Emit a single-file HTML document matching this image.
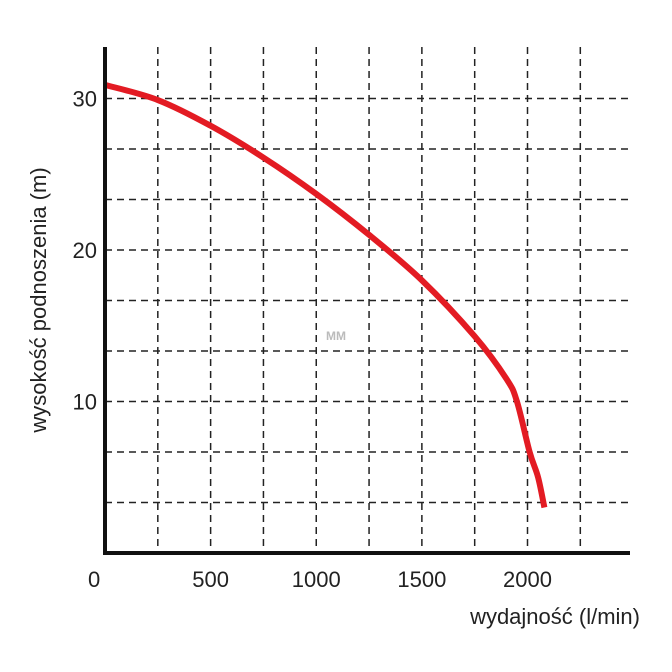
<!DOCTYPE html>
<html><head><meta charset="utf-8"><style>body{margin:0;background:#fff}svg{display:block}text{font-family:"Liberation Sans",sans-serif;fill:#222}</style></head>
<body>
<svg width="672" height="672">
<g id="grid"></g>
<text x="336" y="340" font-size="12" font-weight="bold" style="fill:#bbb" text-anchor="middle">MM</text>
<path id="curve" fill="none" stroke="#e31b23" stroke-width="6" stroke-linecap="butt"/>
<line x1="105" y1="47" x2="105" y2="555" stroke="#111" stroke-width="4"/>
<line x1="103" y1="553" x2="630" y2="553" stroke="#111" stroke-width="4"/>
<g id="ticks"></g>
<text x="88" y="587" font-size="22">0</text>
<text x="640" y="624" font-size="22" text-anchor="end">wydajność (l/min)</text>
<text transform="translate(46,300) rotate(-90)" font-size="22" text-anchor="middle">wysokość podnoszenia (m)</text>
</svg>
<script>
const flowValues=[0,250,500,750,1000,1250,1500,1750,1900,1950,2010,2050,2080];
const headValues=[30.9,29.9,28.2,26.1,23.7,21,18,14.3,11.5,10,6.67,5,3];
const xTickLabels=[500,1000,1500,2000];
const yTickLabels=[10,20,30];
const xs=v=>105+v*(422.5/2000);
const ys=v=>553-v*15.15;
const ns="http://www.w3.org/2000/svg";
const g=document.getElementById('grid');
for(let i=1;i<=9;i++){const l=document.createElementNS(ns,'line');


const x=xs(i*250);l.setAttribute('x1',x);l.setAttribute('x2',x);l.setAttribute('y1',47);l.setAttribute('y2',553);
l.setAttribute('stroke','#222');l.setAttribute('stroke-width','1.5');l.setAttribute('stroke-dasharray','7,5');g.appendChild(l);}
for(let i=1;i<=9;i++){const l=document.createElementNS(ns,'line');


const y=ys(i*10/3);l.setAttribute('y1',y);l.setAttribute('y2',y);l.setAttribute('x1',105);l.setAttribute('x2',632);
l.setAttribute('stroke','#222');l.setAttribute('stroke-width','1.5');l.setAttribute('stroke-dasharray','7,5');g.appendChild(l);}
const t=document.getElementById('ticks');
xTickLabels.forEach(v=>{const e=document.createElementNS(ns,'text');


e.setAttribute('x',xs(v));e.setAttribute('y',587);e.setAttribute('font-size','22');e.setAttribute('text-anchor','middle');e.textContent=v;t.appendChild(e);});
yTickLabels.forEach(v=>{const e=document.createElementNS(ns,'text');


e.setAttribute('x',97);e.setAttribute('y',ys(v)+8);e.setAttribute('font-size','22');e.setAttribute('text-anchor','end');e.textContent=v;t.appendChild(e);});
const p=flowValues.map((f,i)=>[xs(f),ys(headValues[i])]);
let d='M'+p[0][0]+','+p[0][1];
for(let i=0;i<p.length-1;i++){const p0=p[i-1]||p[i],p1=p[i],p2=p[i+1],p3=p[i+2]||p2;
d+=' C'+(p1[0]+(p2[0]-p0[0])/6)+','+(p1[1]+(p2[1]-p0[1])/6)+' '+(p2[0]-(p3[0]-p1[0])/6)+','+(p2[1]-(p3[1]-p1[1])/6)+' '+p2[0]+','+p2[1];}
document.getElementById('curve').setAttribute('d',d);
</script>
</body></html>
